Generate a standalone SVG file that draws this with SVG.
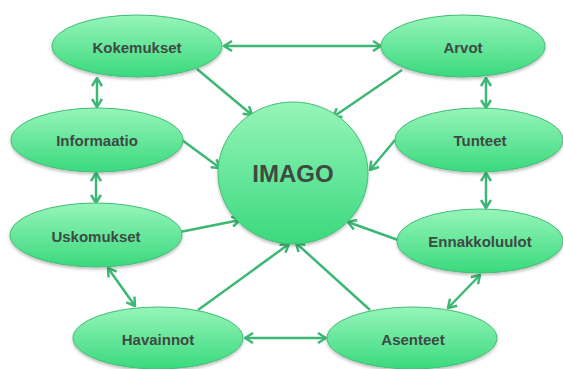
<svg xmlns="http://www.w3.org/2000/svg" width="563" height="369" viewBox="0 0 563 369">
<style>
.n{fill:url(#g);stroke:#43bd77;stroke-width:1;filter:url(#sh)}
.t{font-family:"Liberation Sans",Arial,sans-serif;font-weight:bold;font-size:15px;fill:#3d4a42;text-anchor:middle;dominant-baseline:central}
.big{font-size:24px}
.c line{stroke:#3cb874;stroke-width:2.5;fill:none}
.u{marker-end:url(#ah)}
.b{marker-start:url(#ah);marker-end:url(#ah)}
</style>
<defs>
<linearGradient id="g" x1="0" y1="0" x2="0" y2="1">
<stop offset="0" stop-color="#96f5ba"/>
<stop offset="1" stop-color="#3ad97d"/>
</linearGradient>
<filter id="sh" x="-10%" y="-10%" width="120%" height="130%">
<feDropShadow dx="0" dy="2" stdDeviation="1.5" flood-color="#000" flood-opacity="0.25"/>
</filter>
<marker id="ah" viewBox="0 0 10 12" refX="9" refY="6" markerWidth="10" markerHeight="12" markerUnits="userSpaceOnUse" orient="auto-start-reverse">
<path d="M1,1 L9,6 L1,11" fill="none" stroke="#3cb874" stroke-width="2.5"/>
</marker>
</defs>
<g class="c" id="connectors">
<line class="b" x1="224" y1="46" x2="381" y2="46"/>
<line class="u" x1="197" y1="69" x2="252" y2="115"/>
<line class="u" x1="402" y1="70" x2="333" y2="117"/>
<line class="b" x1="97" y1="78" x2="97" y2="107"/>
<line class="b" x1="486" y1="78" x2="486" y2="108"/>
<line class="u" x1="182" y1="140" x2="220" y2="168"/>
<line class="u" x1="395" y1="140" x2="370" y2="170"/>
<line class="b" x1="96" y1="173" x2="96" y2="203"/>
<line class="b" x1="486" y1="173" x2="486" y2="208"/>
<line class="u" x1="180" y1="232" x2="240" y2="220"/>
<line class="u" x1="398" y1="240" x2="348" y2="222"/>
<line class="b" x1="108" y1="268" x2="135" y2="306"/>
<line class="b" x1="480" y1="275" x2="448" y2="308"/>
<line class="u" x1="198" y1="310" x2="289" y2="244"/>
<line class="u" x1="370" y1="310" x2="296" y2="243"/>
<line class="b" x1="245" y1="338" x2="326" y2="338"/>
</g>
<g id="imago"><ellipse class="n" cx="293" cy="173" rx="75" ry="71"/><text class="t big" x="293" y="173">IMAGO</text></g>
<g id="kokemukset"><ellipse class="n" cx="137" cy="46" rx="85" ry="31"/><text class="t" x="137" y="47">Kokemukset</text></g>
<g id="arvot"><ellipse class="n" cx="463" cy="46" rx="82" ry="31"/><text class="t" x="463" y="47">Arvot</text></g>
<g id="informaatio"><ellipse class="n" cx="97" cy="140" rx="86" ry="32"/><text class="t" x="97" y="140">Informaatio</text></g>
<g id="tunteet"><ellipse class="n" cx="479" cy="140" rx="84" ry="32"/><text class="t" x="480" y="140">Tunteet</text></g>
<g id="uskomukset"><ellipse class="n" cx="96" cy="235" rx="86" ry="32"/><text class="t" x="96" y="236">Uskomukset</text></g>
<g id="ennakkoluulot"><ellipse class="n" cx="480" cy="241" rx="83" ry="32"/><text class="t" x="480" y="241">Ennakkoluulot</text></g>
<g id="havainnot"><ellipse class="n" cx="158" cy="338" rx="85" ry="31"/><text class="t" x="158" y="339">Havainnot</text></g>
<g id="asenteet"><ellipse class="n" cx="412" cy="338" rx="85" ry="31"/><text class="t" x="413" y="339">Asenteet</text></g>
</svg>
